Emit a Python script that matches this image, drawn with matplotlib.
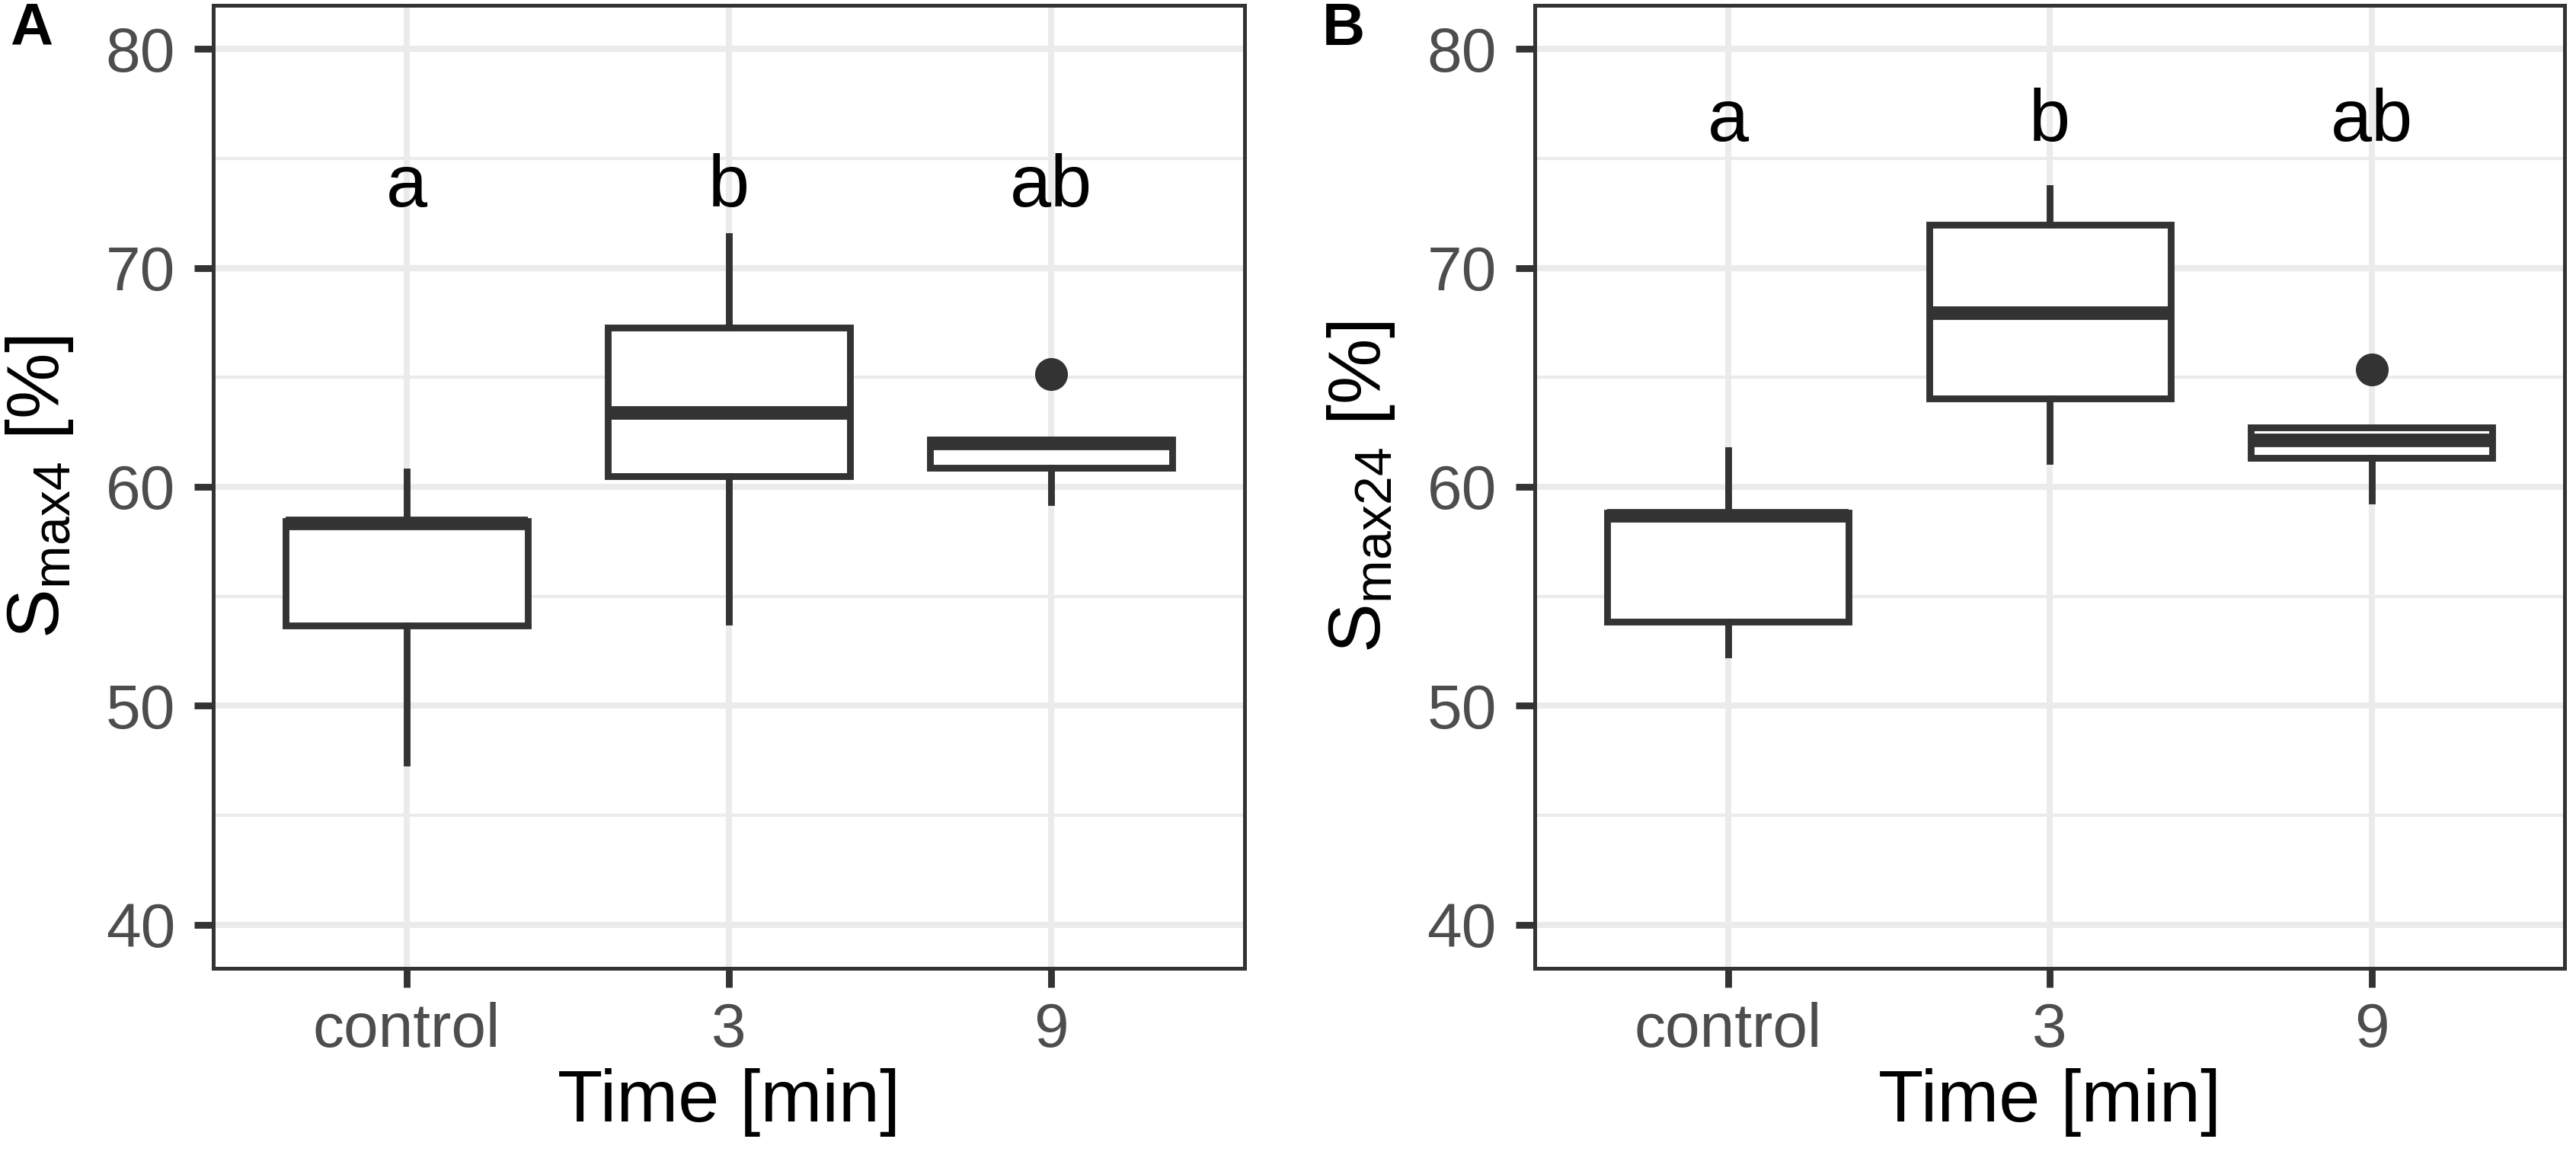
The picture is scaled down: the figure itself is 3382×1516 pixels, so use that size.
import matplotlib
matplotlib.use("Agg")
import matplotlib.pyplot as plt

plt.rcParams['font.family'] = ['Liberation Sans', 'DejaVu Sans']
plt.rcParams['mathtext.fontset'] = 'custom'
plt.rcParams['mathtext.rm'] = 'Liberation Sans'
plt.rcParams['mathtext.it'] = 'Liberation Sans:italic'

# categories and letters from the Tukey test
groups = ['control', '3', '9']
letters = ['a', 'b', 'ab']

# panel A: S_max4, box statistics
a_low = [47.4, 53.85, 59.32]
a_q1 = [53.65, 60.47, 60.88]
a_med = [58.33, 63.39, 62.0]
a_q3 = [58.43, 67.29, 62.17]
a_high = [60.7, 71.45, 62.17]
a_out = [[], [], [65.16]]

# panel B: S_max24
b_low = [52.33, 61.17, 59.39]
b_q1 = [53.84, 64.05, 61.33]
b_med = [58.67, 67.92, 62.14]
b_q3 = [58.83, 71.97, 62.73]
b_high = [61.67, 73.65, 62.73]
b_out = [[], [], [65.36]]

dark = '#333333'
grid_c = '#EBEBEB'

fig = plt.figure(figsize=(16.91, 7.58), dpi=200)
ax_a = fig.add_axes([0.0828, 0.1616, 0.4003, 0.8338])
ax_b = fig.add_axes([0.5958, 0.1616, 0.3998, 0.8338])


def draw_panel(ax, low, q1, med, q3, high, out, ylab, letter_y):
    stats = []
    for i in range(len(groups)):
        stats.append({'whislo': low[i], 'q1': q1[i], 'med': med[i],
                      'q3': q3[i], 'whishi': high[i], 'fliers': out[i],
                      'label': groups[i]})
    ax.bxp(stats, positions=[1, 2, 3], widths=0.75, patch_artist=True,
           showcaps=False,
           boxprops=dict(facecolor='white', edgecolor=dark, linewidth=3.2),
           medianprops=dict(color=dark, linewidth=6.4, solid_capstyle='butt'),
           whiskerprops=dict(color=dark, linewidth=3.2),
           flierprops=dict(marker='o', markerfacecolor=dark,
                           markeredgecolor=dark, markersize=14.5))
    for i, t in enumerate(letters):
        ax.text(i + 1, letter_y, t, ha='center', va='baseline',
                fontsize=35, color='black')

    ax.set_xlim(0.4, 3.6)
    ax.set_ylim(38, 82)
    ax.set_yticks([40, 50, 60, 70, 80])
    ax.set_yticks([45, 55, 65, 75], minor=True)
    ax.set_xticks([1, 2, 3])
    ax.set_xticklabels(groups)
    ax.set_axisbelow(True)
    ax.grid(True, which='major', color=grid_c, linewidth=2.9)
    ax.grid(True, which='minor', axis='y', color=grid_c, linewidth=1.5)
    ax.tick_params(axis='both', which='major', length=9, width=3.2,
                   color=dark, labelcolor='#4D4D4D', labelsize=29.5)
    ax.tick_params(axis='y', pad=9)
    ax.tick_params(axis='x', pad=7)
    ax.tick_params(axis='y', which='minor', length=0)
    for s in ax.spines.values():
        s.set_color(dark)
        s.set_linewidth(1.8)

    ax.set_xlabel('Time [min]', fontsize=35)
    ax.xaxis.set_label_coords(0.5, -0.104)
    ax.set_ylabel(ylab, fontsize=35)
    ax.yaxis.set_label_coords(-0.134, 0.5)


draw_panel(ax_a, a_low, a_q1, a_med, a_q3, a_high, a_out,
           r'S$_{\mathrm{max4}}$ [%]', 72.8)
draw_panel(ax_b, b_low, b_q1, b_med, b_q3, b_high, b_out,
           r'S$_{\mathrm{max24}}$ [%]', 75.8)

fig.text(0.004, 0.999, 'A', fontsize=28, fontweight='bold', va='top')
fig.text(0.5133, 0.999, 'B', fontsize=28, fontweight='bold', va='top')

fig.savefig('out.png', dpi=200)
